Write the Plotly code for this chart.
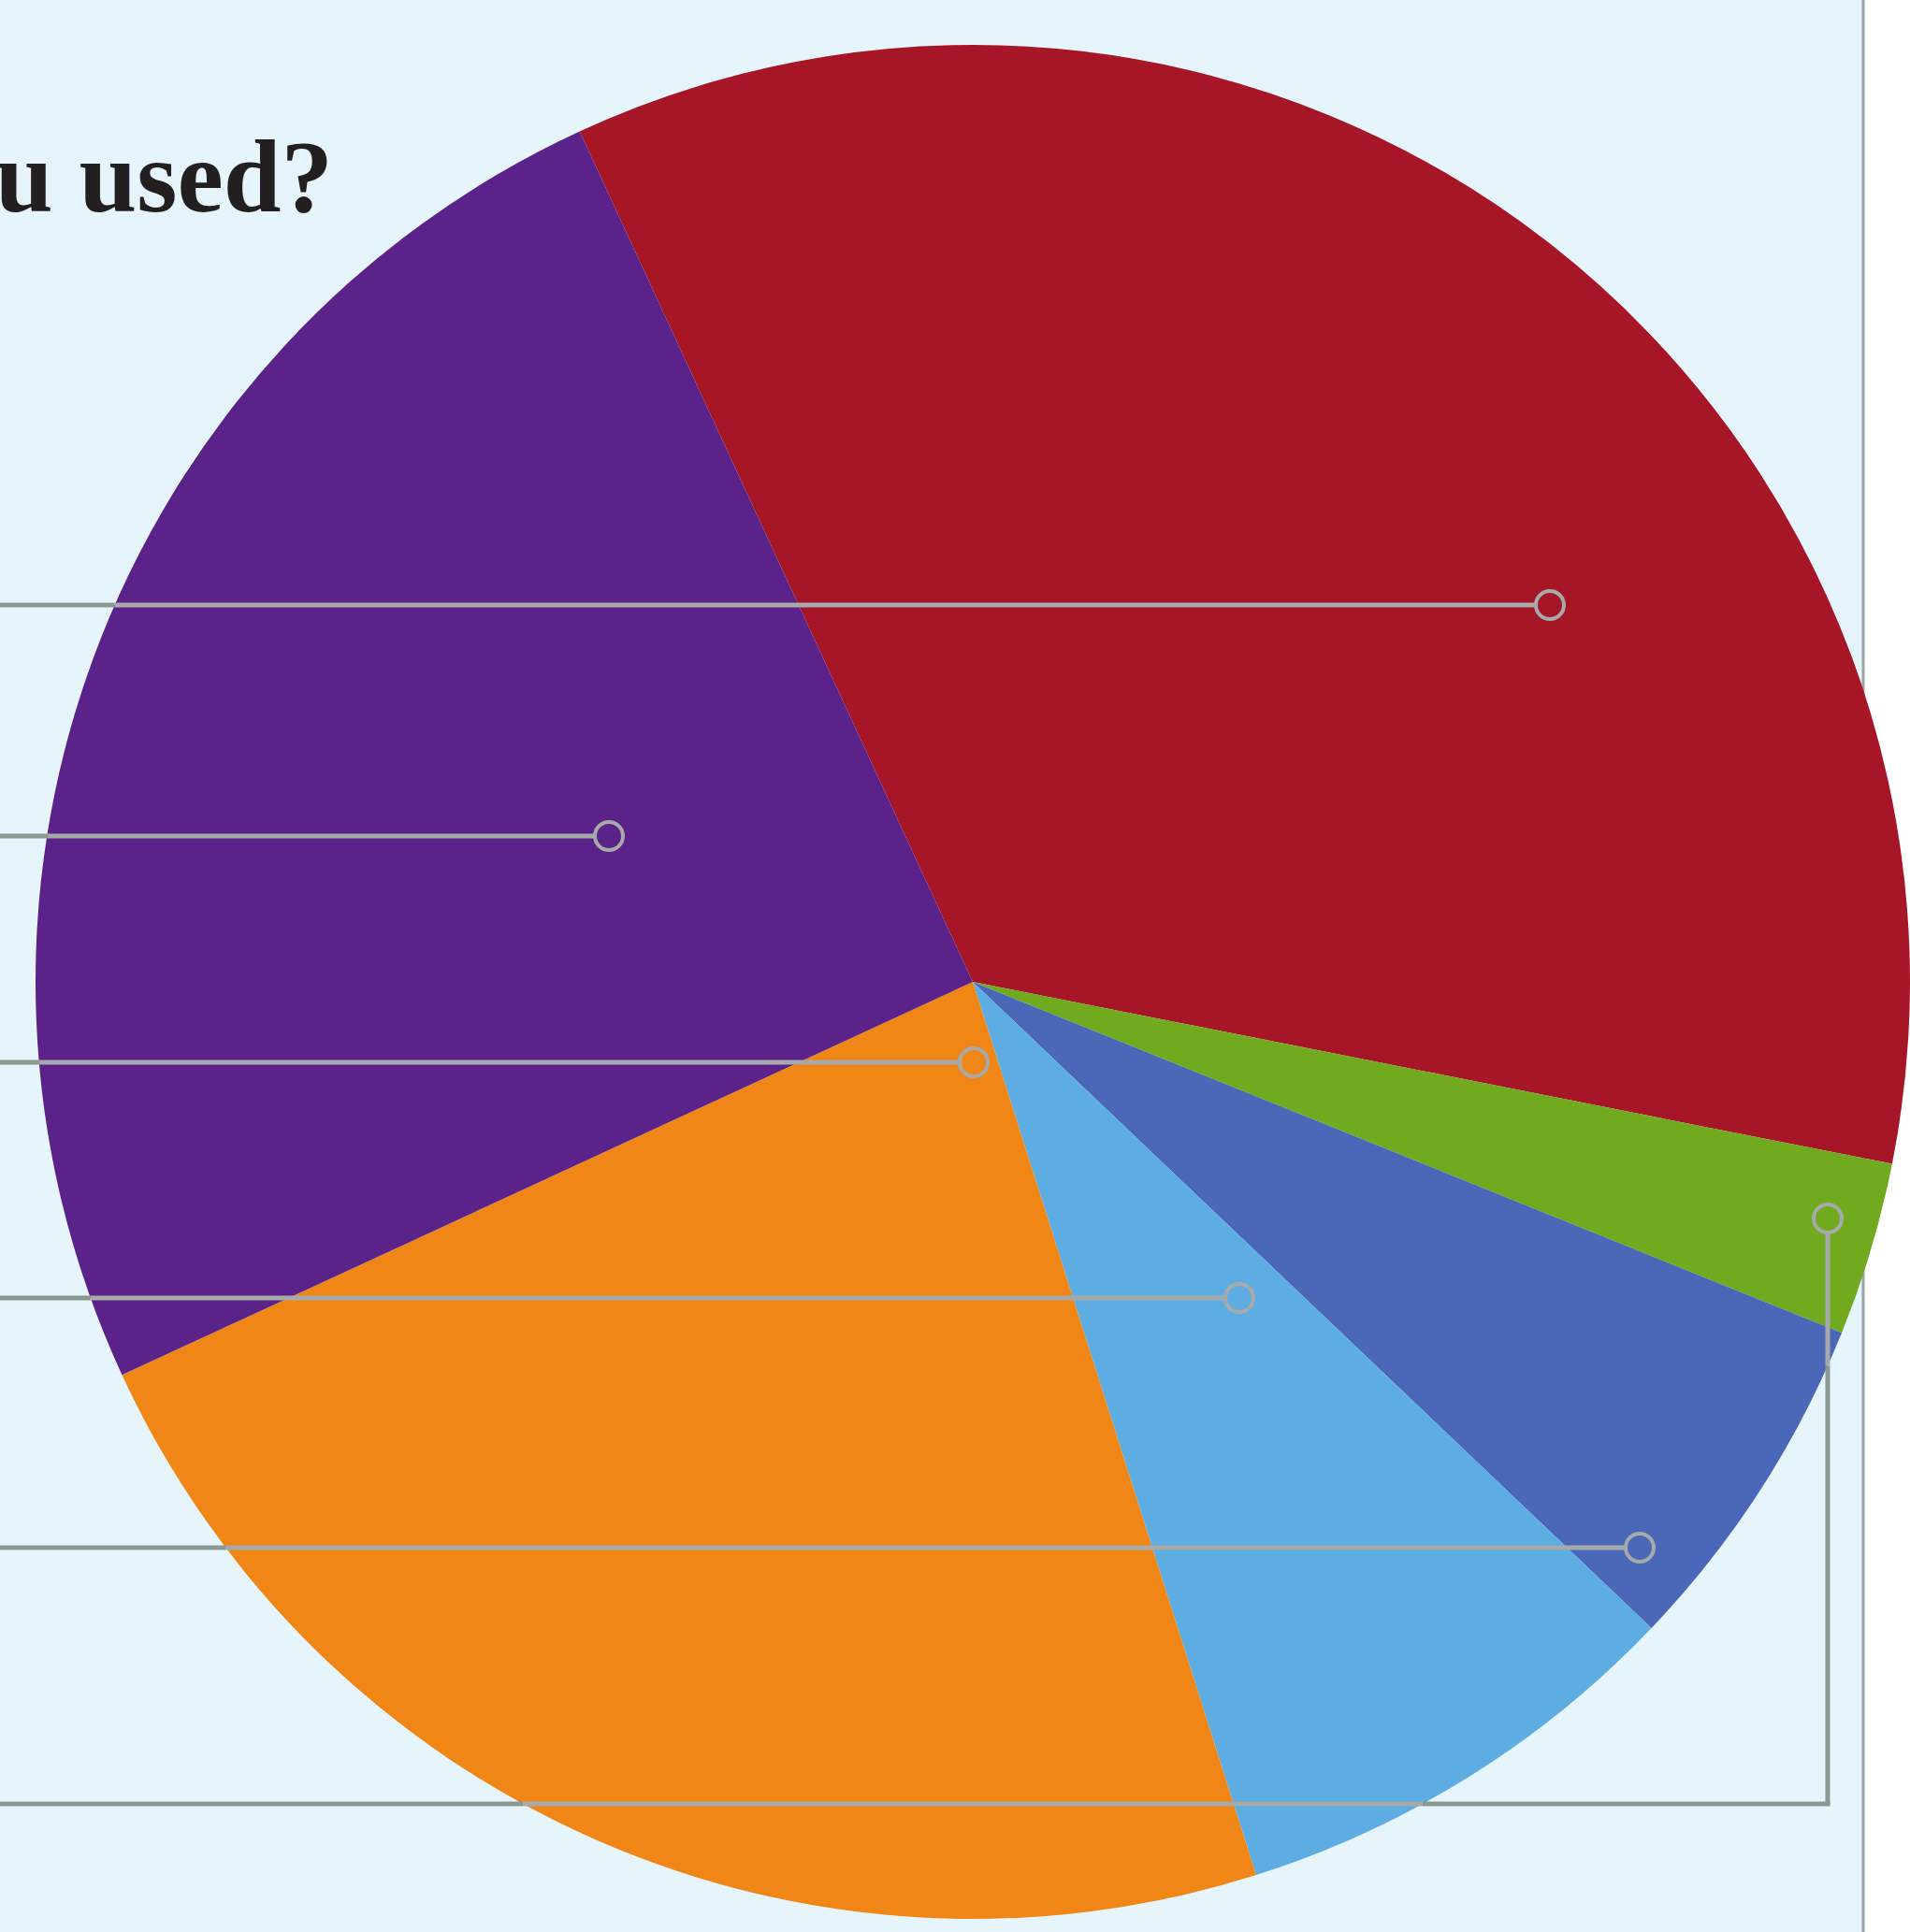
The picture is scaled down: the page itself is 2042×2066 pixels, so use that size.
import math
import plotly.graph_objects as go

# ---- data ----
labels = ["Option A", "Option B", "Option C", "Option D", "Option E", "Option F"]
values = [35, 3, 6, 8, 23, 25]
colors = ["#A71626", "#72AA1F", "#4A67B8", "#5DADE2", "#F08616", "#5B238A"]

# callout anchor points (pixel layout of leader lines)
callouts_y = [647, 894, 1136, 1388, 1655]
callouts_x = [1657, 651, 1041, 1325, 1753]
elbow = dict(y=1929, x=1954, y_end=1303)

W, H = 2042, 2066
BG = "#E6F5FC"
LINE_OFF = "#8A9891"
LINE_ON = "#A7AAAA"

def px(x):
    return x / W

def py(y):
    return 1 - y / H

# pie geometry in pixels
left, right = 38, W
cx = (left + right) / 2
R = (right - left) / 2
cy = 1050
top, bottom = cy - R, cy + R

fig = go.Figure(go.Pie(
    labels=labels, values=values, sort=False, direction="clockwise",
    rotation=-24.8, textinfo="none", hoverinfo="label+percent",
    marker=dict(colors=colors, line=dict(width=0)),
    domain=dict(x=[px(left), 1], y=[py(bottom), py(top)]),
    showlegend=False,
))

shapes = [
    dict(type="rect", xref="paper", yref="paper", x0=0, x1=px(1992), y0=0, y1=1,
         fillcolor=BG, line=dict(width=0), layer="below"),
    dict(type="line", xref="paper", yref="paper", x0=px(1992), x1=px(1992), y0=0, y1=1,
         line=dict(color="#9AA2A2", width=3), layer="below"),
]

def circle_edge_x(y):
    d = R * R - (y - cy) ** 2
    return cx - math.sqrt(d) if d > 0 else None

def hline(x0, x1, y, color):
    shapes.append(dict(type="line", xref="paper", yref="paper",
                       x0=px(x0), x1=px(x1), y0=py(y), y1=py(y),
                       line=dict(color=color, width=5)))

def marker(x, y):
    r = 15
    shapes.append(dict(type="circle", xref="paper", yref="paper",
                       x0=px(x - r), x1=px(x + r), y0=py(y + r), y1=py(y - r),
                       line=dict(color=LINE_ON, width=4), fillcolor="rgba(0,0,0,0)"))

for x, y in zip(callouts_x, callouts_y):
    ex = circle_edge_x(y)
    hline(ex, x - 15, y, LINE_ON)
    hline(0, ex, y, LINE_OFF)
    marker(x, y)

# elbow callout
yb, xb = elbow["y"], elbow["x"]
dxe = xb - cx
edge_y = cy + math.sqrt(R * R - dxe * dxe)
ex = circle_edge_x(yb)
ex_r = 2 * cx - ex
hline(0, ex, yb, LINE_OFF)
hline(ex, ex_r, yb, LINE_ON)
hline(ex_r, xb + 2.5, yb, LINE_OFF)
shapes.append(dict(type="line", xref="paper", yref="paper", x0=px(xb), x1=px(xb),
                   y0=py(yb), y1=py(edge_y), line=dict(color=LINE_OFF, width=5)))
shapes.append(dict(type="line", xref="paper", yref="paper", x0=px(xb), x1=px(xb),
                   y0=py(edge_y), y1=py(elbow["y_end"] + 15), line=dict(color=LINE_ON, width=5)))
marker(xb, elbow["y_end"])

fig.update_layout(
    width=W, height=H,
    margin=dict(l=0, r=0, t=0, b=0),
    paper_bgcolor="white",
    shapes=shapes,
    annotations=[dict(
        text="you used?", xref="paper", yref="paper",
        x=px(358), y=py(188), xanchor="right", yanchor="middle",
        showarrow=False,
        font=dict(family="Liberation Serif", size=111, color="#231F20", weight=700),
    )],
)

fig.write_html("out.html", config={"displayModeBar": False},
               post_script="document.body.style.margin='0';")
